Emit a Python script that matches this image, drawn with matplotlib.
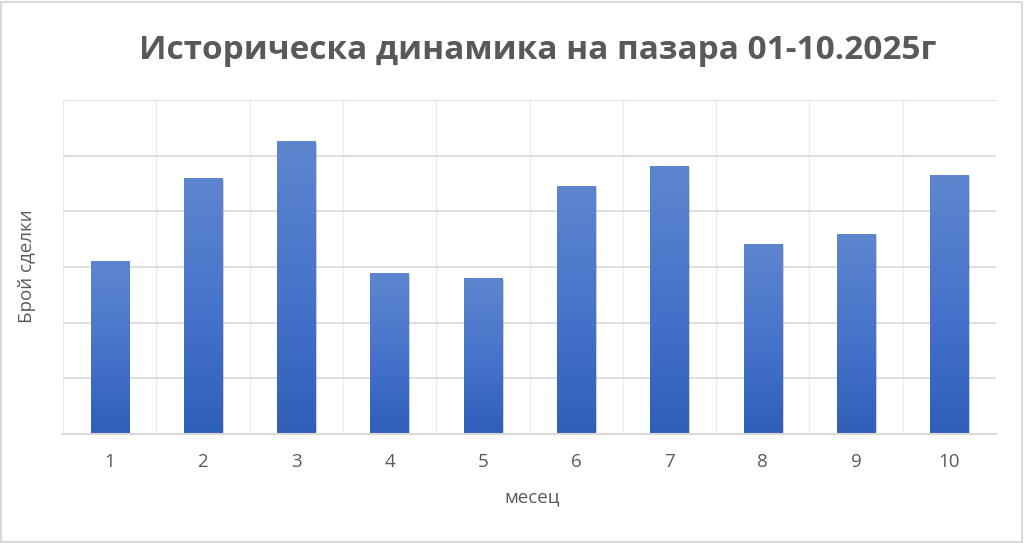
import matplotlib
matplotlib.use("Agg")
import matplotlib.pyplot as plt
import numpy as np
from matplotlib import patheffects as pe
from matplotlib.colors import LinearSegmentedColormap

months = [1, 2, 3, 4, 5, 6, 7, 8, 9, 10]
deals = [155, 230, 263, 145, 140, 223, 241, 171, 180, 233]
title = "Историческа динамика на пазара 01-10.2025г"
xlabel = "месец"
ylabel = "Брой сделки"

text_col = "#595959"
grid_col = "#d9d9d9"

fig = plt.figure(figsize=(10.24, 5.43), dpi=100)
fig.patch.set_facecolor("white")
# outer border
fig.add_artist(plt.Rectangle((0.001, 0.002), 0.997, 0.995, transform=fig.transFigure,
                             fill=False, edgecolor="#d9d9d9", linewidth=1.5))

ax = fig.add_axes([0.0615, 0.2007, 0.9112, 0.6151])
x = np.arange(len(months))
bars = ax.bar(x, deals, width=0.41, color="#4472c4", zorder=3,
              path_effects=[pe.SimplePatchShadow(offset=(1.2, -1.2), shadow_rgbFace="#000000", alpha=0.18),
                            pe.Normal()])

cmap = LinearSegmentedColormap.from_list("g", ["#2e5fb9", "#4774cb", "#5e86cf"])
grad = np.linspace(0, 1, 256).reshape(-1, 1)
for b in bars:
    x0, y0 = b.get_x(), b.get_y()
    w, h = b.get_width(), b.get_height()
    im = ax.imshow(grad, cmap=cmap, aspect="auto", origin="lower",
                   extent=(x0, x0 + w, y0, y0 + h), zorder=4)
    im.set_clip_path(b)

ax.set_xlim(-0.5, len(months) - 0.5)
ax.set_ylim(0, 300)
ax.set_yticks(np.arange(0, 301, 50))
ax.set_xticks(x)
ax.set_xticks(np.arange(-0.5, len(months), 0.5), minor=True)
ax.set_xticklabels([str(m) for m in months], fontsize=13.5, color=text_col, family="Open Sans")
ax.tick_params(axis="x", which="both", length=0, pad=14)
ax.tick_params(axis="y", length=0, labelleft=False)
ax.grid(axis="y", color=grid_col, linewidth=1.2, zorder=0)
ax.grid(axis="x", which="minor", color="#ececec", linewidth=1.0, zorder=0)
ax.grid(axis="x", which="major", visible=False)
for s in ["top", "right", "left"]:
    ax.spines[s].set_visible(False)
ax.spines["bottom"].set_color(grid_col)
ax.spines["bottom"].set_linewidth(1.5)
ax.spines["bottom"].set_zorder(5)

fig.text(0.525, 0.907, title, ha="center", va="center", fontsize=24, fontweight="bold",
         color=text_col, family="Open Sans")
fig.text(0.5195, 0.084, xlabel, ha="center", va="center", fontsize=13.5, color=text_col, family="Open Sans")
fig.text(0.026, 0.51, ylabel, ha="center", va="center", rotation=90, fontsize=13.5,
         color=text_col, family="Open Sans")

fig.savefig("out.png", dpi=100, facecolor="white")
